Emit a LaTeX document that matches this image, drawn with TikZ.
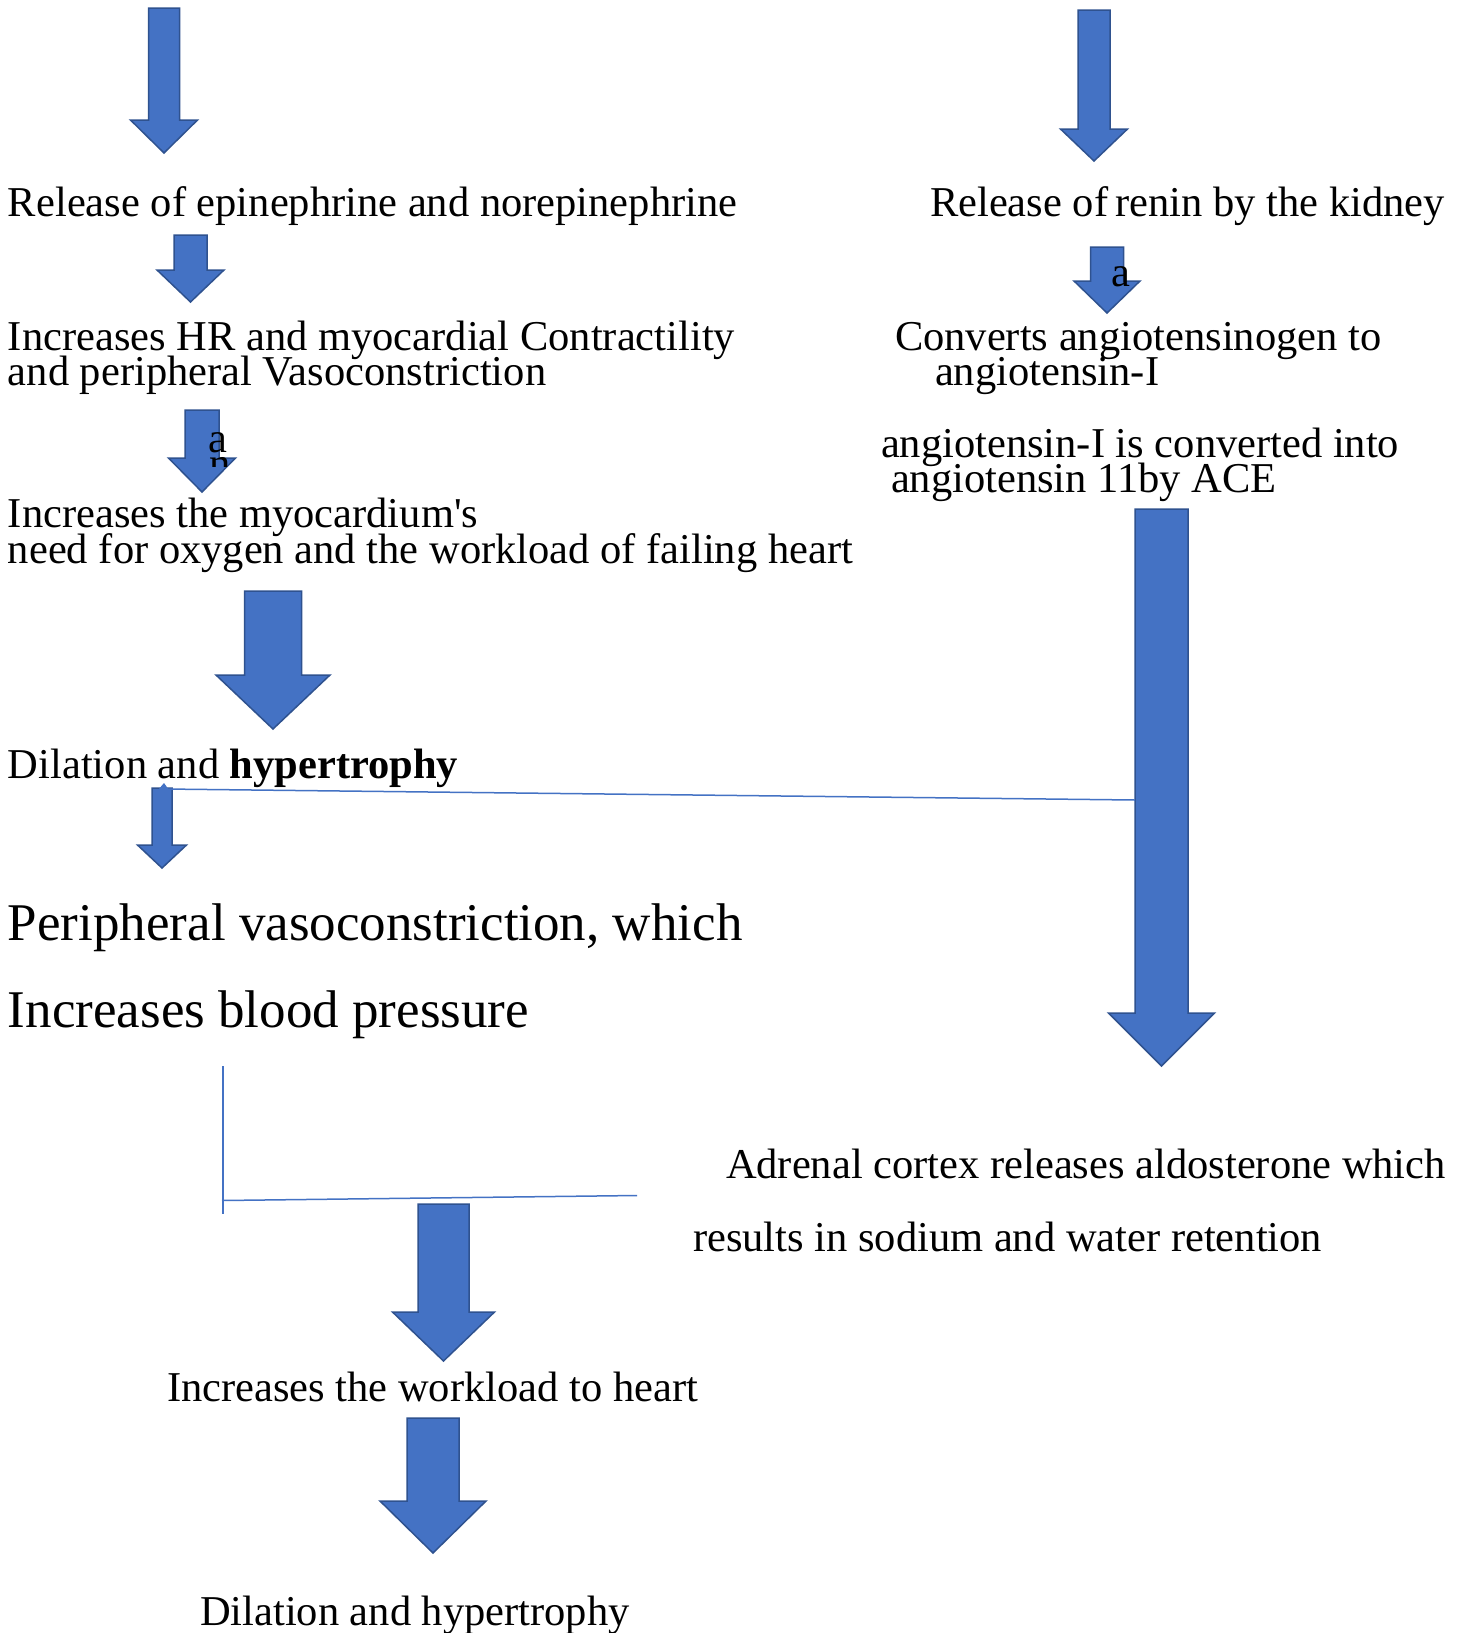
\documentclass[tikz,border=0pt]{standalone}
\usepackage{fontspec}
\setmainfont{Liberation Serif}[Ligatures=TeXOff]
\definecolor{arrowfill}{HTML}{4472C4}
\definecolor{arrowedge}{HTML}{2F528F}
\tikzset{
  blockarrow/.style={fill=arrowfill, draw=arrowedge, line width=1.5pt, line join=miter},
  txt/.style={anchor=base west, inner sep=0pt, outer sep=0pt, font=\fontsize{42.5}{42.5}\selectfont},
  bigtxt/.style={anchor=base west, inner sep=0pt, outer sep=0pt, font=\fontsize{53}{53}\selectfont},
  thinline/.style={draw=arrowfill, line width=1.5pt},
}
% #1 centre x, #2 shaft half width, #3 top, #4 head base, #5 head half width, #6 tip
\newcommand\myBlockArrow[6]{%
  \draw[blockarrow] (#1-#2,#3) -- (#1+#2,#3) -- (#1+#2,#4) -- (#1+#5,#4) -- (#1,#6)
    -- (#1-#5,#4) -- (#1-#2,#4) -- cycle;}
\begin{document}
\begin{tikzpicture}[x=1pt,y=-1pt]
\useasboundingbox[fill=white] (0,0) rectangle (1466,1633);

% block arrows
\myBlockArrow{164}{15.5}{8}{120}{33.5}{153}
\myBlockArrow{1094}{16}{10}{129}{33.5}{161}
\myBlockArrow{190.5}{16.5}{235}{270}{33.5}{302}
\myBlockArrow{1107}{16.5}{247}{281}{33}{313}
\myBlockArrow{202}{17}{410}{458}{33.5}{492}
\myBlockArrow{273}{28.5}{591}{675}{57}{729}
\myBlockArrow{1161.5}{26.5}{509}{1013}{53}{1066}
\myBlockArrow{162}{10}{788}{845}{24.5}{868}
\myBlockArrow{443.5}{25.5}{1204}{1312}{51}{1361}
\myBlockArrow{433}{26}{1418}{1501}{53}{1553}

% anchors for thin connectors
\coordinate (hbL) at (164,789);
\coordinate (hbR) at (1135,800);
\coordinate (vT) at (223,1066);
\coordinate (vB) at (223,1214);
\coordinate (hL) at (222,1200.5);
\coordinate (hR) at (637,1195.5);

\draw[thinline] (hbL) -- (hbR);
\fill[arrowfill] (158,790) -- (164,783) -- (169,790) -- cycle;
\draw[thinline] (vT) -- (vB);
\draw[thinline] (hL) -- (hR);

% texts
\node[txt] (l1) at (8,216) {Release of epinephrine and norepinephrine};
\node[txt] (r1) at (930,216) {Release of\kern-0.08em\ renin by the kidney};
\node[txt] (l2a) at (8,350) {Increases HR and myocardial Contractility};
\node[txt] (l2b) at (8,385) {and peripheral Vasoconstriction};
\node[txt] (r2a) at (895,350) {Converts angiotensinogen to};
\node[txt] (r2b) at (935,385) {angiotensin-I};
\node[txt] (ra) at (1111,286) {a};
\node[txt] (la) at (208,452) {a};
\begin{scope}
  \clip (200,455) rectangle (240,466);
  \node[txt] (ln) at (209,477) {n};
\end{scope}
\node[txt] (r3a) at (881,457) {angiotensin-I is converted into};
\node[txt] (r3b) at (891,492) {angiotensin 11by ACE};
\node[txt] (l3a) at (8,527) {Increases the myocardium's};
\node[txt] (l3b) at (8,563) {need for oxygen and the workload of failing heart};
\node[txt] (l4) at (8,778) {Dilation and \textbf{hypertrophy}};
\node[bigtxt] (l5a) at (8,940) {Peripheral vasoconstriction, which};
\node[bigtxt] (l5b) at (8,1027) {Increases blood pressure};
\node[txt] (r4a) at (726,1178) {Adrenal cortex releases aldosterone which};
\node[txt] (r4b) at (693,1251) {results in sodium and water retention};
\node[txt] (l6) at (167,1401) {Increases the workload to heart};
\node[txt] (l7) at (200,1625) {Dilation and hypertrophy};
\end{tikzpicture}
\end{document}
